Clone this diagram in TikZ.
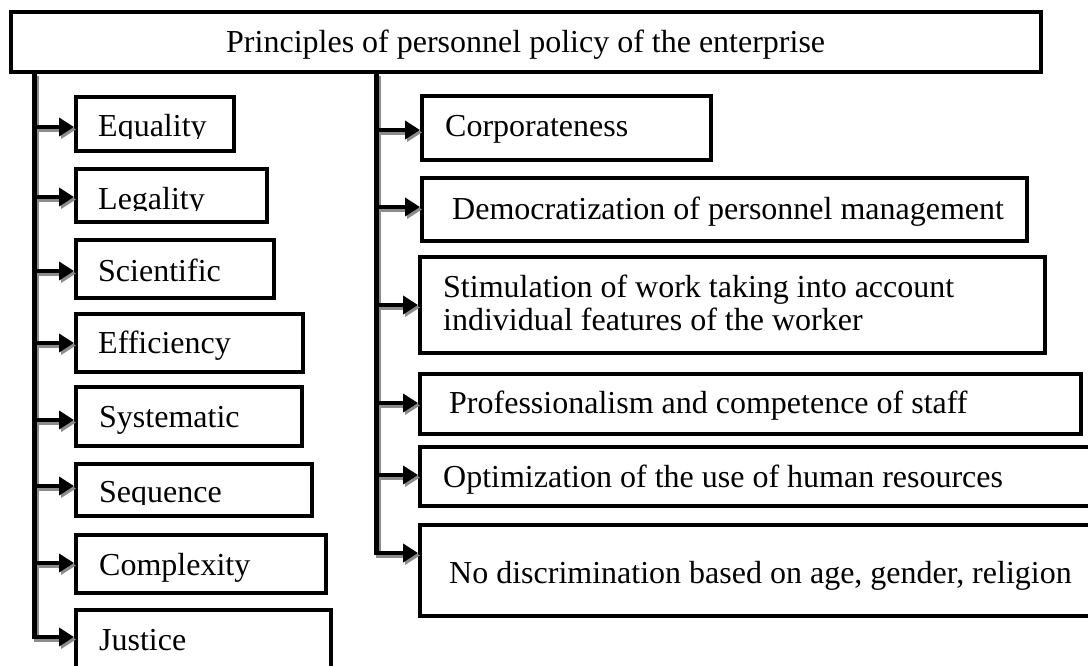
\documentclass[tikz,border=0pt]{standalone}
\usepackage{fontspec}
\setmainfont{Liberation Serif}
\usetikzlibrary{arrows.meta}

% box given by its outer corners (x1,y1) and (x2,y2)
\newcommand\pbox[5]{%
  \node[pbx, anchor=north west, minimum width={#4-#2-4}, minimum height={#5-#3-4}] (#1) at (#2,#3) {};}

\begin{document}
\begin{tikzpicture}[x=1pt, y=-1pt,
  pbx/.style={draw=black, line width=4pt, fill=white, inner sep=0pt, rectangle},
  lbl/.style={inner sep=0pt, anchor=base west, font=\fontsize{32}{33}\selectfont},
  link/.style={line width=4.5pt, -{Triangle[length=15pt, width=18pt]}},
  trunk/.style={line width=4.5pt},
  shade/.style={draw=black!45, transform canvas={shift={(2pt,-2.5pt)}}},
  ink/.style={draw=black}
]
\useasboundingbox (0,0) rectangle (1088,666);
\clip (0,0) rectangle (1088,666);

% title box
\pbox{top}{9}{10}{1043}{74}
\node[lbl] (ttl) at (226,53) {Principles of personnel policy of the enterprise};

% left column
\pbox{eq}{74}{95}{236}{153}
\pbox{le}{74}{167}{269}{224}
\pbox{sc}{74}{238}{276}{300}
\pbox{ef}{74}{312}{305}{374}
\pbox{sy}{74}{385}{304}{448}
\pbox{se}{74}{462}{314}{518}
\pbox{co}{74}{533}{328}{595}
\pbox{ju}{74}{608}{333}{672}

% right column
\pbox{cp}{420}{94}{713}{162}
\pbox{de}{420}{176}{1029}{243}
\pbox{st}{418}{255}{1047}{355}
\pbox{pr}{418}{372}{1083}{436}
\pbox{op}{418}{445}{1110}{508}
\pbox{nd}{418}{523}{1110}{618}

% labels (some are cut off at their baseline)
\begin{scope}
  \clip (74,95) rectangle (236,138.5);
  \node[lbl] (teq) at (98,137) {Equality};
\end{scope}
\begin{scope}
  \clip (74,167) rectangle (269,211);
  \node[lbl] (tle) at (98,210) {Legality};
\end{scope}
\node[lbl] (tsc) at (98,281) {Scientific};
\node[lbl] (tef) at (98,353) {Efficiency};
\node[lbl] (tsy) at (99,427) {Systematic};
\begin{scope}
  \clip (74,462) rectangle (314,504);
  \node[lbl] (tse) at (99,502) {Sequence};
\end{scope}
\node[lbl] (tco) at (99,575) {Complexity};
\node[lbl] (tju) at (99,650) {Justice};

\node[lbl] (tcp) at (445,137) {Corporateness};
\node[lbl] (tde) at (452,220) {Democratization of personnel management};
\node[lbl] (tst1) at (443,297) {Stimulation of work taking into account};
\node[lbl] (tst2) at (443,330) {individual features of the worker};
\node[lbl] (tpr) at (449,413) {Professionalism and competence of staff};
\node[lbl] (top) at (443,487) {Optimization of the use of human resources};
\node[lbl] (tnd) at (449,583) {No discrimination based on age, gender, religion};

% trunk end points
\coordinate (lt) at (34.5,74);
\coordinate (lb) at (34.5,637);
\coordinate (rt) at (376.5,74);
\coordinate (rb) at (376.5,553);

% connectors: grey offset copy first, then black
\foreach \s in {shade, ink} {
  \draw[trunk, \s] (lt) -- (lb);
  \draw[trunk, \s] (rt) -- (rb);
  \draw[link, \s] ([xshift=-2.25pt]lb) -- (ju.west |- lb);
  \foreach \b/\yy in {eq/127, le/197, sc/271, ef/343, sy/420, se/486, co/563} {
    \draw[link, \s] (34.5,\yy) -- (\b.west |- 0,\yy);
  }
  \draw[link, \s] ([xshift=-2.25pt]rb) -- (nd.west |- rb);
  \foreach \b/\yy in {cp/130, de/207, st/305, pr/403, op/475} {
    \draw[link, \s] (376.5,\yy) -- (\b.west |- 0,\yy);
  }
}
\end{tikzpicture}
\end{document}
